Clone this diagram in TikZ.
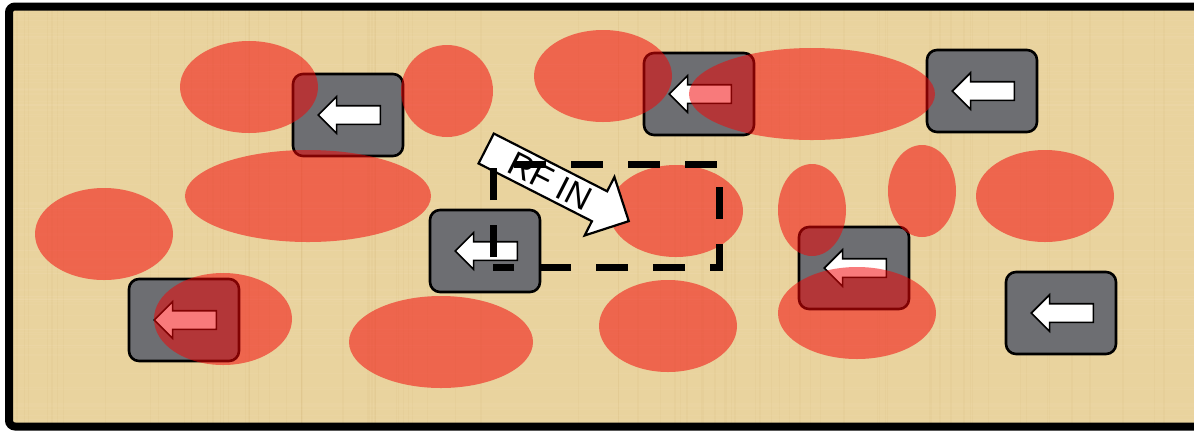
\documentclass[tikz,border=0pt]{standalone}
\usepackage{fontspec}
\setsansfont{Liberation Sans}
\usepackage{tikz}
\usetikzlibrary{shapes.arrows}
\definecolor{papyrus}{HTML}{E9D39E}
\definecolor{grainD}{HTML}{C4A260}
\definecolor{grainL}{HTML}{F8EBC8}
\definecolor{slate}{HTML}{6D6E72}
\definecolor{hot}{HTML}{F30506}

\begin{document}
\begin{tikzpicture}[
   x=0.5pt,y=-0.5pt,
   frame/.style  ={draw=black,line width=4pt,rounded corners=3pt},
   cell/.style   ={draw=black,fill=slate,line width=1.3pt,rounded corners=5pt,minimum width=55pt,minimum height=41pt,inner sep=0pt},
   larr/.style   ={single arrow,shape border rotate=180,draw=black,fill=white,line width=0.8pt,minimum height=31pt,single arrow head extend=4.5pt,single arrow head indent=0pt,inner sep=4.25pt},
   blob/.style   ={fill=hot,fill opacity=0.53},
   zone/.style   ={draw=black,line width=3.5pt,dash pattern=on 16pt off 12.5pt,dash phase=23.5pt},
   rfarrow/.style={single arrow,draw=black,fill=white,line width=1.1pt,minimum height=80pt,single arrow head extend=8pt,single arrow head indent=0pt,inner xsep=1pt,inner ysep=2pt,font=\sffamily\fontsize{17}{17}\selectfont},
   fiber/.style  ={line width=0.6pt,opacity=0.08}
  ]
  \useasboundingbox (0,0) rectangle (1194,430);
  \clip (0,0) rectangle (1194,430);

  % parchment
  \fill[papyrus] (9,6.5) rectangle (1230,426.5);
  \begin{scope}
    \clip (9,6.5) rectangle (1230,426.5);
    \pgfmathsetseed{11}
    \foreach \k in {1,...,90}{
      \pgfmathsetmacro{\gx}{10+rnd*1184}
      \pgfmathsetmacro{\gy}{8+rnd*418}
      \draw[fiber,grainD] (\gx,6) -- (\gx,427);
      \draw[fiber,grainL] (9,\gy) -- (1230,\gy);
    }
  \end{scope}
  \draw[frame] (9,6.5) rectangle (1230,426.5);

  % cells
  \node[cell] (b1) at (348,115) {};
  \node[cell] (b2) at (699,94) {};
  \node[cell] (b3) at (982,91) {};
  \node[cell] (b4) at (485,251) {};
  \node[cell] (b5) at (854,268) {};
  \node[cell] (b6) at (184,320) {};
  \node[cell] (b7) at (1061,313) {};

  \node[larr] (a1) at ([xshift=3pt]b1.center) {};
  \node[larr] (a2) at ([xshift=3pt]b2.center) {};
  \node[larr] (a3) at ([xshift=3pt]b3.center) {};
  \node[larr] (a4) at ([xshift=3pt]b4.center) {};
  \node[larr] (a5) at ([xshift=3pt]b5.center) {};
  \node[larr] (a6) at ([xshift=3pt]b6.center) {};
  \node[larr] (a7) at ([xshift=3pt]b7.center) {};

  % hot spots
  \fill[blob] (249,87)   ellipse [x radius=34.5pt,y radius=23pt];
  \fill[blob] (447,91)   ellipse [x radius=23pt,y radius=23pt];
  \fill[blob] (603,76)   ellipse [x radius=34.5pt,y radius=23pt];
  \fill[blob] (812,94)   ellipse [x radius=61.5pt,y radius=23pt];
  \fill[blob] (308,196)  ellipse [x radius=61.5pt,y radius=23pt];
  \fill[blob] (104,234)  ellipse [x radius=34.5pt,y radius=23pt];
  \fill[blob] (676,211)  ellipse [x radius=33.5pt,y radius=23pt];
  \fill[blob] (812,210)  ellipse [x radius=17pt,y radius=23pt];
  \fill[blob] (922,191)  ellipse [x radius=17pt,y radius=23pt];
  \fill[blob] (1045,196) ellipse [x radius=34.5pt,y radius=23pt];
  \fill[blob] (223,319)  ellipse [x radius=34.5pt,y radius=23pt];
  \fill[blob] (441,342)  ellipse [x radius=46pt,y radius=23pt];
  \fill[blob] (668,326)  ellipse [x radius=34.5pt,y radius=23pt];
  \fill[blob] (857,313)  ellipse [x radius=39.5pt,y radius=23pt];

  % input
  \node[rfarrow,rotate=-27] (rf) at (550,181) {RF IN};
  \draw[zone] (493,267) -- (493,164) -- (719,164) -- (719,267) -- cycle;
\end{tikzpicture}
\end{document}
